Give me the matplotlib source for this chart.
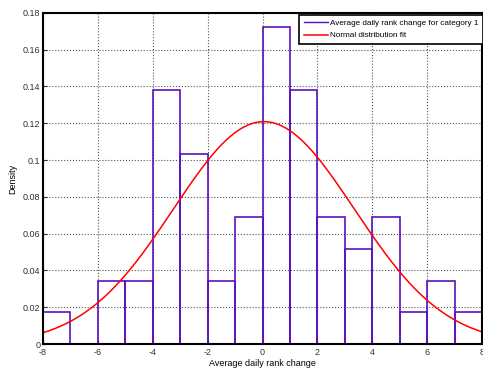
import numpy as np
import matplotlib.pyplot as plt
from matplotlib.lines import Line2D

# histogram (density) of average daily rank change, bin width 1
bin_edges = [-8, -7, -6, -5, -4, -3, -2, -1, 0, 1, 2, 3, 4, 5, 6, 7, 8]
density = [0.0172, 0.0, 0.0345, 0.0345, 0.1379, 0.1034, 0.0345, 0.0690,
           0.1724, 0.1379, 0.0690, 0.0517, 0.0690, 0.0172, 0.0345, 0.0172]

# normal fit parameters
fit_mu = 0.05
fit_sigma = 3.3

xticks = [-8, -6, -4, -2, 0, 2, 4, 6, 8]
yticks = [0, 0.02, 0.04, 0.06, 0.08, 0.1, 0.12, 0.14, 0.16, 0.18]
ytick_labels = ["0", "0.02", "0.04", "0.06", "0.08", "0.1", "0.12", "0.14", "0.16", "0.18"]

plt.rcParams.update({'font.family': 'Liberation Sans', 'font.size': 6.5,
                     'axes.unicode_minus': False})

fig = plt.figure(figsize=(4.83, 3.68), dpi=100)
ax = fig.add_axes([0.089, 0.065, 0.909, 0.9])

purple = "#5a10c0"
ax.bar(bin_edges[:-1], density, width=np.diff(bin_edges), align='edge',
       fill=False, edgecolor=purple, linewidth=1.2)
xs = np.linspace(-8, 8, 200)
pdf = np.exp(-(xs - fit_mu)**2 / (2*fit_sigma**2)) / (fit_sigma*np.sqrt(2*np.pi))
ax.plot(xs, pdf, color="red", linewidth=1.1)

ax.set_xlim(-8, 8)
ax.set_ylim(0, 0.18)
ax.set_xticks(xticks)
ax.set_yticks(yticks)
ax.set_yticklabels(ytick_labels)
ax.tick_params(direction='in', length=3, width=0.8, colors='#333333')
ax.tick_params(axis='x', pad=3)
ax.tick_params(axis='y', pad=2)
ax.grid(True, linestyle=':', color='#555555', linewidth=0.8)
ax.set_axisbelow(True)
for s in ax.spines.values():
    s.set_linewidth(1.5)
ax.set_xlabel("Average daily rank change", labelpad=1)
ax.set_ylabel("Density", labelpad=4)

handles = [Line2D([0], [0], color=purple, lw=1), Line2D([0], [0], color='red', lw=1.1)]
leg = ax.legend(handles, ["Average daily rank change for category 1", "Normal distribution fit"],
                loc='upper right', bbox_to_anchor=(1.003, 0.995), fontsize=5.9,
                fancybox=False, framealpha=1, edgecolor='black',
                handlelength=3.0, handletextpad=0.25, borderpad=0.55, labelspacing=0.6,
                borderaxespad=0.0)
leg.get_frame().set_linewidth(1.2)

fig.savefig("out.png", dpi=100)
